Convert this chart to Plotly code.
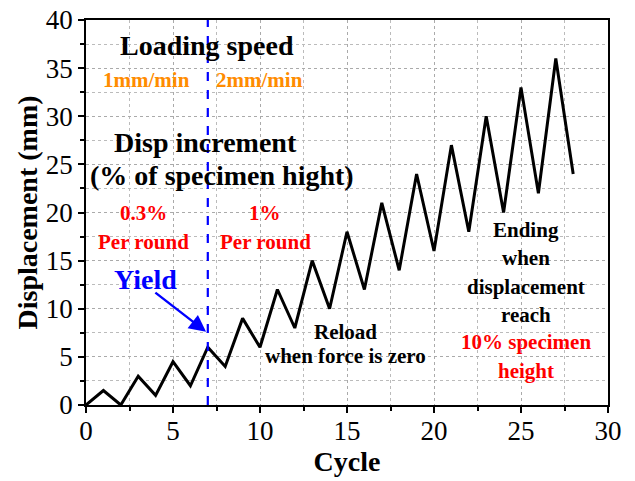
import plotly.graph_objects as go

# Loading protocol: displacement at each cycle turning point
cycle = list(range(29))
displacement = [0, 1.5, 0, 3, 1, 4.5, 2, 6, 4, 9, 6, 12, 8, 15, 10, 18, 12,
                21, 14, 24, 16, 27, 18, 30, 20, 33, 22, 36, 24]
yield_cycle = 7

FONT = "Times New Roman"
ORANGE = "#FF8C00"
RED = "#FF0000"
BLUE = "#0000FF"

fig = go.Figure()
fig.add_trace(go.Scatter(x=cycle, y=displacement, mode="lines",
                         line=dict(color="black", width=3), showlegend=False))
# yield marker line
fig.add_trace(go.Scatter(x=[yield_cycle, yield_cycle], y=[0, 40], mode="lines",
                         line=dict(color=BLUE, width=2.2, dash="dash"),
                         showlegend=False))

def label(x, y, text, color="black", size=21):
    fig.add_annotation(x=x, y=y, xref="x", yref="y", text=text, showarrow=False,
                       font=dict(family=FONT, size=size, color=color))

label(6.95, 37.3, "<b>Loading speed</b>", size=28)
label(3.45, 33.8, "<b>1mm/min</b>", ORANGE)
label(9.95, 33.8, "<b>2mm/min</b>", ORANGE)
label(6.85, 27.3, "<b>Disp increment</b>", size=28)
label(7.8, 23.8, "<b>(% of specimen hight)</b>", size=28)
label(3.3, 19.9, "<b>0.3%</b>", RED)
label(3.3, 16.9, "<b>Per round</b>", RED)
label(10.3, 19.9, "<b>1%</b>", RED)
label(10.3, 16.9, "<b>Per round</b>", RED)
label(14.9, 7.6, "<b>Reload</b>")
label(14.9, 5.1, "<b>when force is zero</b>")
label(25.3, 18.2, "<b>Ending</b>")
label(25.3, 15.3, "<b>when</b>")
label(25.3, 12.3, "<b>displacement</b>")
label(25.3, 9.4, "<b>reach</b>")
label(25.3, 6.5, "<b>10% specimen</b>", RED)
label(25.3, 3.5, "<b>height</b>", RED)
label(3.4, 13.0, "<b>Yield</b>", BLUE, size=28)

fig.add_annotation(x=6.9, y=7.6, ax=3.9, ay=11.8, xref="x", yref="y",
                   axref="x", ayref="y", text="", showarrow=True,
                   arrowhead=2, arrowsize=1.4, arrowwidth=2.4, arrowcolor=BLUE)

axis_common = dict(
    showline=True, linecolor="black", linewidth=1.5, mirror=True,
    ticks="outside", ticklen=6, tickwidth=1.5, tickcolor="black",
    showgrid=True, gridcolor="#AAAAAA", griddash="dot", gridwidth=1,
    zeroline=False, automargin=False,
    tickfont=dict(family=FONT, size=27, color="black"),
    title_font=dict(family=FONT, size=28, color="black"),
    minor=dict(dtick=2.5, ticks="outside", ticklen=4, tickwidth=1.5,
               tickcolor="black", showgrid=True, gridcolor="#BBBBBB",
               griddash="dot", gridwidth=1),
)

fig.update_xaxes(range=[0, 30], dtick=5, title_text="<b>Cycle</b>",
                 title_standoff=4, ticklabelstandoff=-5, **axis_common)
fig.update_yaxes(range=[0, 40], dtick=5, title_text="<b>Displacement (mm)</b>",
                 title_standoff=0, **axis_common)

fig.update_layout(width=635, height=481, plot_bgcolor="white",
                  paper_bgcolor="white", font=dict(family=FONT),
                  margin=dict(l=86, r=27, t=20, b=76))

fig.write_html("out.html")
